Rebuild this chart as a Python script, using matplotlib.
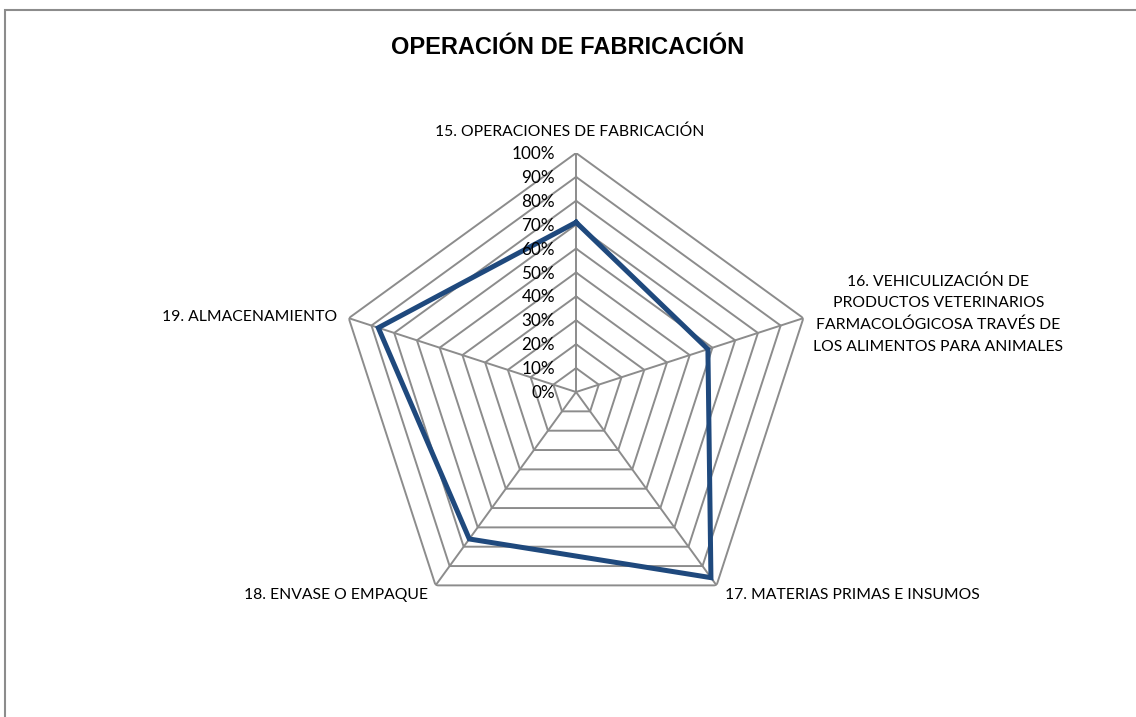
import numpy as np
import matplotlib.pyplot as plt
from matplotlib.patches import Rectangle

categories = [
    "15. OPERACIONES DE FABRICACIÓN",
    "16. VEHICULIZACIÓN DE\nPRODUCTOS VETERINARIOS\nFARMACOLÓGICOSA TRAVÉS DE\nLOS ALIMENTOS PARA ANIMALES",
    "17. MATERIAS PRIMAS E INSUMOS",
    "18. ENVASE O EMPAQUE",
    "19. ALMACENAMIENTO",
]
values = [0.71, 0.58, 0.96, 0.76, 0.87]
ring_values = [0.0, 0.1, 0.2, 0.3, 0.4, 0.5, 0.6, 0.7, 0.8, 0.9, 1.0]
ring_labels = ["0%", "10%", "20%", "30%", "40%", "50%", "60%", "70%", "80%", "90%", "100%"]

grid_color = "#8c8c8c"
line_color = "#1f497d"
label_font = "Lato"

fig = plt.figure(figsize=(11.36, 7.17), dpi=100)
# chart border (right and bottom edges lie outside the picture)
fig.patches.append(Rectangle((5 / 1136, -0.05), 1.1, 1 - 10 / 717 + 0.05,
                             transform=fig.transFigure, fill=False,
                             edgecolor=grid_color, lw=1.5))

fig.text(0.5, 1 - 47 / 717, "OPERACIÓN DE FABRICACIÓN", ha="center", va="center",
         fontsize=17, fontweight="bold", family="Liberation Sans")

ax = fig.add_axes([0.2967, 0.1199, 0.4208, 0.6667], projection="polar")
ax.set_theta_zero_location("N")
ax.set_theta_direction(-1)
ax.set_ylim(0, 1)
ax.axis("off")

theta = np.linspace(0, 2 * np.pi, len(categories), endpoint=False)
theta_closed = np.append(theta, theta[0])

for r in ring_values[1:]:
    ax.plot(theta_closed, [r] * len(theta_closed), color=grid_color, lw=1.4)
for t in theta:
    ax.plot([t, t], [0, 1], color=grid_color, lw=1.4)

ax.plot(theta_closed, values + values[:1], color=line_color, lw=3.6,
        solid_joinstyle="miter")

for r, lbl in zip(ring_values, ring_labels):
    ax.annotate(lbl, xy=(0, r), xytext=(-21, -1), textcoords="offset pixels",
                ha="right", va="center", fontsize=12.3, family=label_font)

# label offsets from each outer vertex, in pixels
offsets = [(-6, 21), (135, 4), (8, -10), (-8, -10), (-12, 1)]
aligns = ["center", "center", "left", "right", "right"]
for t, cat, off, ha in zip(theta, categories, offsets, aligns):
    ax.annotate(cat, xy=(t, 1), xytext=off, textcoords="offset pixels",
                ha=ha, va="center", multialignment="center",
                fontsize=11.3, family=label_font, linespacing=1.65)

fig.savefig("out.png", dpi=100)
